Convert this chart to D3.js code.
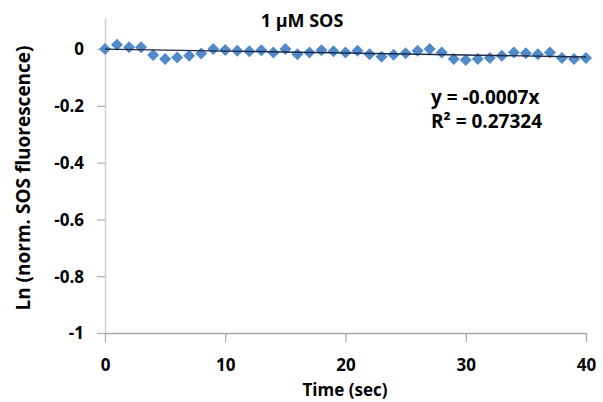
<!DOCTYPE html>
<html>
<head>
<meta charset="utf-8">
<script src="https://cdn.jsdelivr.net/npm/d3@7"></script>
<style>
  html, body { margin: 0; padding: 0; background: #fff; }
  svg { display: block; }
  text { font-family: "Open Sans", "Liberation Sans", Arial, sans-serif; font-weight: bold; fill: #000; }
</style>
</head>
<body>
<svg id="chart" width="603" height="402"></svg>
<script>
// Data: time (sec) and Ln(normalized SOS fluorescence)
const times = [0,1,2,3,4,5,6,7,8,9,10,11,12,13,14,15,16,17,18,19,20,
               21,22,23,24,25,26,27,28,29,30,31,32,33,34,35,36,37,38,39,40];
const lnValues = [0.000, 0.015, 0.006, 0.006, -0.021, -0.035, -0.030, -0.024, -0.016, 0.000, -0.003,
                  -0.006, -0.008, -0.004, -0.012, 0.000, -0.018, -0.012, -0.004, -0.008, -0.012,
                  -0.006, -0.018, -0.027, -0.020, -0.015, -0.006, 0.000, -0.012, -0.035, -0.039,
                  -0.035, -0.032, -0.024, -0.012, -0.015, -0.018, -0.012, -0.032, -0.035, -0.032];
const slope = -0.0007;
const xTicks = [0, 10, 20, 30, 40];
const yTicks = [0, -0.2, -0.4, -0.6, -0.8, -1];
const titleText = "1 μM SOS";
const xTitle = "Time (sec)";
const yTitle = "Ln (norm. SOS fluorescence)";
const eqLines = ["y = -0.0007x", "R² = 0.27324"];

const FONT = "'Open Sans', 'Liberation Sans', Arial, sans-serif";
const svg = d3.select("#chart");
const x = d3.scaleLinear().domain([0, 40]).range([105, 586]);
const y = d3.scaleLinear().domain([-1, 0.11]).range([333, 17.8]);

// Y axis
const yAxis = d3.axisLeft(y).tickValues(yTicks).tickSize(8).tickSizeOuter(0)
  .tickFormat(d => String(+d.toFixed(1)));
const gy = svg.append("g").attr("transform", `translate(105,0)`).call(yAxis);
gy.select(".domain").attr("stroke", "#d4d4d4").attr("stroke-width", 1.5);
gy.selectAll(".tick line").attr("stroke", "#b0b0b0").attr("stroke-width", 1.2);
gy.selectAll(".tick text").attr("x", -21).attr("dy", "0.35em")
  .style("font-size", "17px").style("font-weight", "bold")
  .style("font-family", FONT).attr("fill", "#000");

// X axis
const xAxis = d3.axisBottom(x).tickValues(xTicks).tickSize(9).tickSizeOuter(0);
const gx = svg.append("g").attr("transform", `translate(0,${y(-1)})`).call(xAxis);
gx.select(".domain").attr("stroke", "#a6a6a6").attr("stroke-width", 1.5);
gx.selectAll(".tick line").attr("stroke", "#a6a6a6").attr("stroke-width", 1.2);
gx.selectAll(".tick text").attr("y", 26).attr("dy", "0.71em")
  .style("font-size", "17px").style("font-weight", "bold")
  .style("font-family", FONT).attr("fill", "#000");

// Markers (diamonds)
const diamondType = {
  draw(ctx, size) {
    const r = Math.sqrt(size) / 2;
    ctx.moveTo(0, -r); ctx.lineTo(r, 0); ctx.lineTo(0, r); ctx.lineTo(-r, 0); ctx.closePath();
  }
};
const diamond = d3.symbol().type(diamondType).size(144);
svg.append("g").selectAll("path").data(times).join("path")
  .attr("d", diamond)
  .attr("transform", (t, i) => `translate(${x(t)},${y(lnValues[i])})`)
  .attr("fill", "#5189c9");

// Trendline
svg.append("line")
  .attr("x1", x(0)).attr("y1", y(0))
  .attr("x2", x(40)).attr("y2", y(slope * 40))
  .attr("stroke", "#1f2a44").attr("stroke-width", 1.3);

// Titles
svg.append("text").attr("x", 302).attr("y", 27).attr("text-anchor", "middle")
  .style("font-size", "18px").text(titleText);
svg.append("text").attr("x", 345).attr("y", 396).attr("text-anchor", "middle")
  .style("font-size", "17px").text(xTitle);
svg.append("text").attr("transform", "translate(30,178) rotate(-90)").attr("text-anchor", "middle")
  .style("font-size", "19px").text(yTitle);

// Equation
svg.append("g").selectAll("text").data(eqLines).join("text")
  .attr("x", 431).attr("y", (d, i) => 104 + i * 24)
  .style("font-size", "19px").text(d => d);
</script>
</body>
</html>
